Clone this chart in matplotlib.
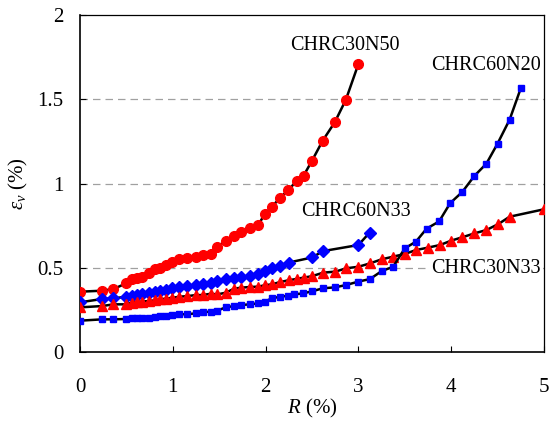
import matplotlib
matplotlib.use("Agg")
import matplotlib.pyplot as plt

plt.rcParams["font.family"] = ["Liberation Serif", "DejaVu Serif"]
plt.rcParams["mathtext.fontset"] = "custom"
plt.rcParams["mathtext.rm"] = "Liberation Serif"
plt.rcParams["mathtext.it"] = "Liberation Serif:italic"

# CHRC30N50 (red circles)
r_30n50 = [0, 0.24, 0.36, 0.50, 0.557, 0.61, 0.665, 0.747, 0.81, 0.862,
           0.923, 0.995, 1.07, 1.157, 1.25, 1.32, 1.41, 1.48, 1.57, 1.66,
           1.74, 1.83, 1.92, 1.99, 2.07, 2.155, 2.245, 2.335, 2.41, 2.50,
           2.615, 2.745, 2.865, 3.0]
ev_30n50 = [0.358, 0.364, 0.374, 0.408, 0.431, 0.437, 0.443, 0.467, 0.491, 0.497,
            0.516, 0.532, 0.55, 0.556, 0.566, 0.576, 0.583, 0.625, 0.659, 0.688,
            0.714, 0.734, 0.754, 0.817, 0.862, 0.916, 0.961, 1.016, 1.047, 1.135,
            1.254, 1.363, 1.497, 1.709]

# CHRC60N33 (blue diamonds)
r_60n33 = [0, 0.24, 0.36, 0.50, 0.557, 0.61, 0.665, 0.747, 0.81, 0.862,
           0.923, 0.995, 1.07, 1.157, 1.25, 1.32, 1.41, 1.48, 1.57, 1.66,
           1.74, 1.83, 1.92, 1.99, 2.07, 2.155, 2.25, 2.50, 2.62, 3.0,
           3.12]
ev_60n33 = [0.295, 0.315, 0.319, 0.328, 0.334, 0.338, 0.344, 0.352, 0.358, 0.364,
            0.368, 0.378, 0.388, 0.392, 0.398, 0.402, 0.408, 0.422, 0.433, 0.441,
            0.447, 0.451, 0.461, 0.481, 0.501, 0.513, 0.531, 0.561, 0.599, 0.635,
            0.708]

# CHRC30N33 (red triangles)
r_30n33 = [0, 0.24, 0.36, 0.50, 0.557, 0.61, 0.665, 0.747, 0.81, 0.862,
           0.923, 0.995, 1.07, 1.157, 1.25, 1.32, 1.41, 1.48, 1.57, 1.66,
           1.74, 1.83, 1.92, 1.99, 2.07, 2.155, 2.25, 2.335, 2.415, 2.50,
           2.62, 2.75, 2.87, 3.0, 3.125, 3.25, 3.375, 3.50, 3.62, 3.745,
           3.88, 4.0, 4.12, 4.25, 4.38, 4.51, 4.63, 5.0]
ev_30n33 = [0.265, 0.273, 0.283, 0.283, 0.293, 0.297, 0.299, 0.303, 0.307, 0.313,
            0.317, 0.322, 0.328, 0.332, 0.338, 0.338, 0.346, 0.342, 0.352, 0.376,
            0.382, 0.386, 0.388, 0.396, 0.402, 0.415, 0.426, 0.434, 0.442, 0.45,
            0.471, 0.477, 0.497, 0.506, 0.526, 0.55, 0.566, 0.582, 0.605, 0.619,
            0.635, 0.661, 0.681, 0.704, 0.724, 0.76, 0.803, 0.847]

# CHRC60N20 (blue squares)
r_60n20 = [0, 0.24, 0.36, 0.50, 0.557, 0.61, 0.665, 0.747, 0.81, 0.862,
           0.923, 0.995, 1.07, 1.157, 1.25, 1.32, 1.41, 1.48, 1.57, 1.66,
           1.74, 1.83, 1.92, 1.99, 2.07, 2.155, 2.245, 2.31, 2.40, 2.50,
           2.615, 2.75, 2.87, 3.0, 3.125, 3.25, 3.375, 3.50, 3.62, 3.735,
           3.87, 3.99, 4.12, 4.25, 4.38, 4.50, 4.63, 4.75]
ev_60n20 = [0.186, 0.194, 0.194, 0.196, 0.204, 0.204, 0.204, 0.204, 0.21, 0.214,
            0.216, 0.22, 0.224, 0.224, 0.23, 0.236, 0.24, 0.246, 0.265, 0.273,
            0.279, 0.283, 0.289, 0.299, 0.319, 0.328, 0.334, 0.342, 0.348, 0.36,
            0.378, 0.384, 0.398, 0.418, 0.433, 0.48, 0.506, 0.615, 0.655, 0.732,
            0.775, 0.884, 0.95, 1.045, 1.118, 1.237, 1.379, 1.565]

y_ticks = [0, 0.5, 1, 1.5, 2]
y_tick_labels = ["0", "0.5", "1", "1.5", "2"]
x_ticks = [0, 1, 2, 3, 4, 5]

fig = plt.figure(figsize=(5.5, 4.23), dpi=100)
ax = fig.add_axes([0.1455, 0.1678, 0.8435, 0.7967])

for yv in [0.5, 1, 1.5]:
    ax.axhline(yv, color="#a0a0a0", linestyle=(0, (6, 4)), linewidth=0.9, zorder=0)

ax.plot(r_30n50, ev_30n50, color="black", linewidth=1.8, marker="o",
        markersize=7, markerfacecolor="#ff0000", markeredgecolor="#ff0000", zorder=3)
ax.plot(r_60n33, ev_60n33, color="black", linewidth=1.8, marker="D",
        markersize=6, markerfacecolor="#0000ff", markeredgecolor="#0000ff", zorder=3)
ax.plot(r_30n33, ev_30n33, color="black", linewidth=1.8, marker="^",
        markersize=7.5, markerfacecolor="#ff0000", markeredgecolor="#ff0000", zorder=3)
ax.plot(r_60n20, ev_60n20, color="black", linewidth=1.8, marker="s",
        markersize=4.5, markerfacecolor="#0000ff", markeredgecolor="#0000ff", zorder=3)

ax.text(2.856, 1.822, "CHRC30N50", fontsize=14.5, ha="center", va="center")
ax.text(4.375, 1.703, "CHRC60N20", fontsize=14.5, ha="center", va="center")
ax.text(2.974, 0.831, "CHRC60N33", fontsize=14.5, ha="center", va="center")
ax.text(4.37, 0.493, "CHRC30N33", fontsize=14.5, ha="center", va="center",
        bbox=dict(facecolor="white", edgecolor="none", pad=0.5), zorder=2)

ax.set_xlim(0, 5)
ax.set_ylim(0, 2)
ax.set_xticks(x_ticks)
ax.set_yticks(y_ticks)
ax.set_yticklabels(y_tick_labels)
ax.tick_params(axis="both", direction="in", length=4, labelsize=15)
ax.tick_params(axis="x", pad=19)
ax.tick_params(axis="y", pad=12)

for side in ["left", "bottom"]:
    ax.spines[side].set_linewidth(1.2)
for side in ["top", "right"]:
    ax.spines[side].set_linewidth(0.9)

ax.set_xlabel(r"$R$ (%)", fontsize=15, labelpad=0)
ax.set_ylabel(r"$\varepsilon_v$ (%)", fontsize=15, labelpad=5)

fig.savefig("out.png", dpi=100)
